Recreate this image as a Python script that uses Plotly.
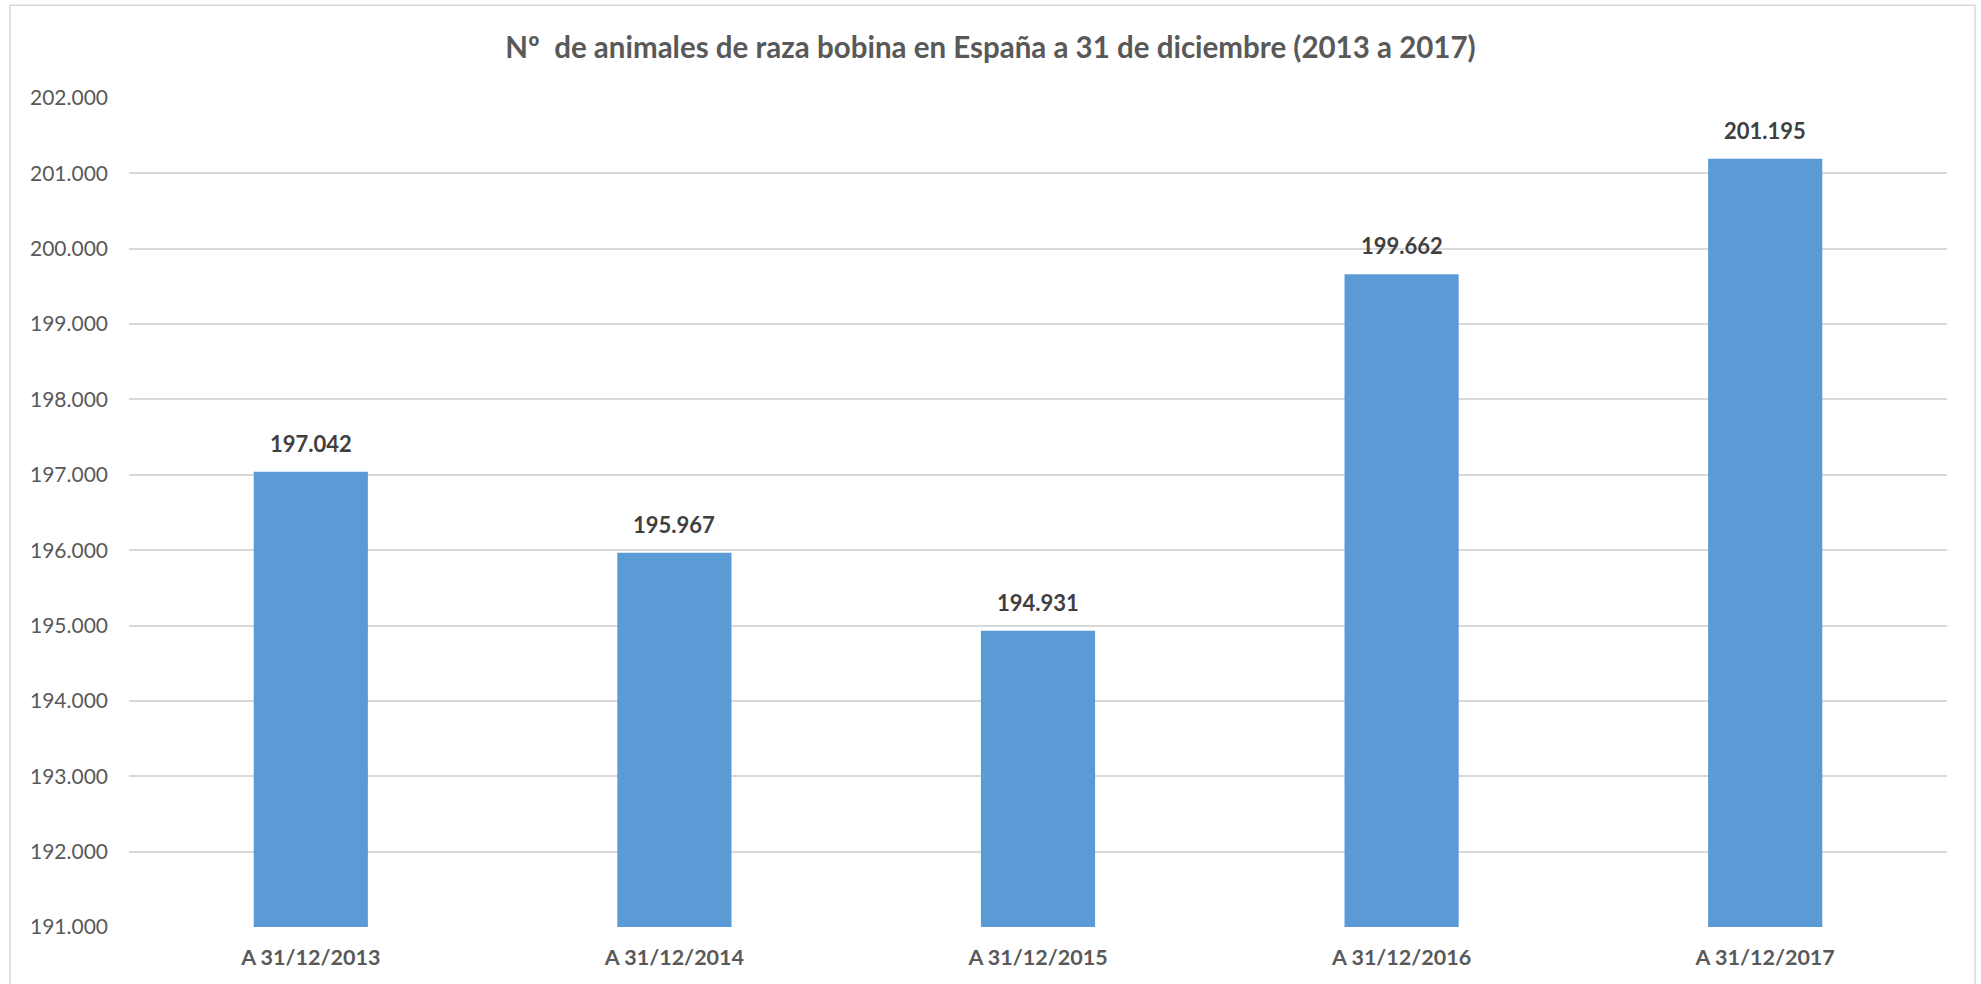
import plotly.graph_objects as go

categories = ["A 31/12/2013", "A 31/12/2014", "A 31/12/2015", "A 31/12/2016", "A 31/12/2017"]
values = [197042, 195967, 194931, 199662, 201195]
y_ticks = [191000 + 1000 * i for i in range(12)]

FONT = "Lato"
GRAY = "#595959"

fig = go.Figure()
fig.add_trace(go.Bar(
    x=categories, y=values,
    marker=dict(color="#5b9bd5", line=dict(width=0)),
    hoverinfo="x+y",
))

for c, v in zip(categories, values):
    fig.add_annotation(
        x=c, y=v, xref="x", yref="y",
        text=f"{v:,}".replace(",", "."),
        showarrow=False, yanchor="bottom", yshift=13,
        font=dict(family=FONT, size=22, color="#404040", weight="bold"),
    )

# chart border (Excel style chart area)
fig.add_shape(type="rect", xref="paper", yref="paper",
              x0=-0.0655, x1=1.0154, y0=-0.08, y1=1.112,
              line=dict(color="#d9d9d9", width=1.5), fillcolor="rgba(0,0,0,0)", layer="below")

fig.update_layout(
    width=1981, height=984,
    margin=dict(l=129, r=34, t=98, b=57),
    paper_bgcolor="white", plot_bgcolor="white",
    separators=",.",
    bargap=0.686,
    showlegend=False,
    title=dict(
        text="Nº  de animales de raza bobina en España a 31 de diciembre (2013 a 2017)",
        x=0.5, xanchor="center", xref="container",
        y=1 - 48 / 984, yanchor="middle", yref="container",
        font=dict(family=FONT, size=29.5, color=GRAY, weight="bold"),
    ),
    xaxis=dict(
        showgrid=False, showline=False, zeroline=False, ticks="",
        tickfont=dict(family=FONT, size=21.5, color=GRAY, weight="bold"),
        ticklabelstandoff=15,
    ),
    yaxis=dict(
        range=[191000, 202000], tickvals=y_ticks, tickformat=",.0f",
        showgrid=True, gridcolor="#d9d9d9", gridwidth=1.5,
        zeroline=False, showline=False, ticks="",
        tickfont=dict(family=FONT, size=21, color=GRAY),
        ticklabelstandoff=20,
    ),
)

fig.write_html("out.html", config={"displayModeBar": False},
               post_script="document.body.style.margin='0px';")
